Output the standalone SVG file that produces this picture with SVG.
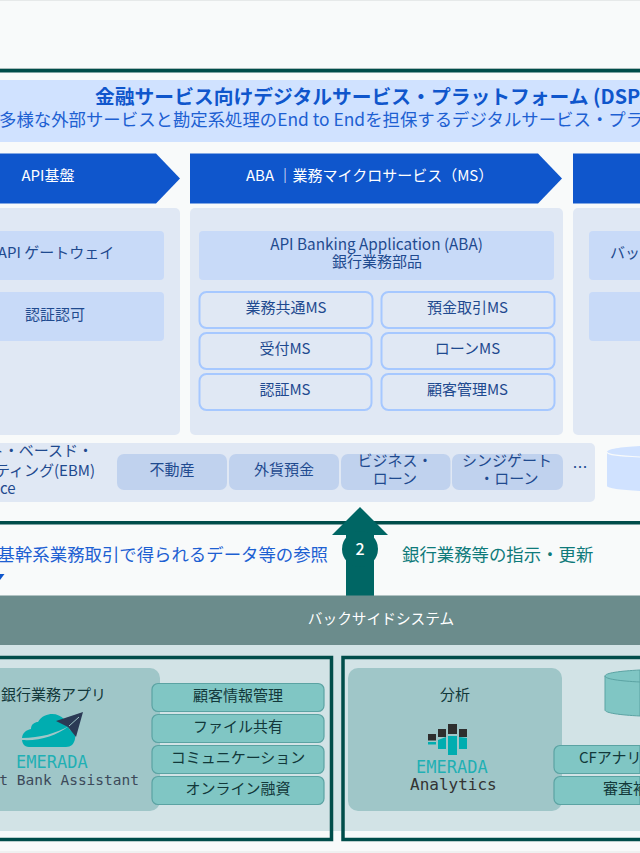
<svg xmlns="http://www.w3.org/2000/svg" width="640" height="853" viewBox="0 0 640 853">
<style>
text{font-family:"Noto Sans CJK JP","Noto Sans",sans-serif}
.m{text-anchor:middle}
.e{text-anchor:end}
.b{font-size:15px;fill:#1f4a8f}
.w{font-size:15px;fill:#fff}
.panel{fill:#e0e8f4}
.inner{fill:#c8daf8}
.ms{fill:#e0e8f4;stroke:#a6c8ff;stroke-width:2}
.chip{fill:#c0d2ee}
.chev{fill:#0f56cc}
.frame{fill:none;stroke:#004d4a;stroke-width:3.5}
.gp{fill:#9fc6c8}
.tile{fill:#80c6c4;stroke:#5ba3a3;stroke-width:1.2}
.t{font-size:15px;fill:#12383a}
.mono{font-family:"DejaVu Sans Mono","Liberation Mono",monospace}
</style>
<rect width="640" height="853" fill="#f8fafa"/>
<rect y="0" width="640" height="1" fill="#e6e9e9"/>
<rect y="68" width="640" height="1" fill="#a9bcbb"/>
<rect y="69" width="640" height="3.5" fill="#004d4a"/>
<g id="title">
<rect y="80" width="640" height="62" fill="#d0e2ff"/>
<text x="95" y="104" font-size="19.8" font-weight="700" fill="#0f56cc">金融サービス向けデジタルサービス・プラットフォーム (DSP)</text>
<text x="-1" y="126" font-size="17.4" fill="#1d60d2">多様な外部サービスと勘定系処理のEnd to Endを担保するデジタルサービス・プラ</text>
</g>
<g id="api-col">
<polygon class="chev" points="0,153.5 156,153.5 180,178.5 156,203.5 0,203.5"/>
<text class="w m" x="48" y="181">API基盤</text>
<path class="panel" d="M0 208H175a5 5 0 0 1 5 5V430a5 5 0 0 1-5 5H0Z"/>
<path class="inner" d="M0 231H160a4 4 0 0 1 4 4V276a4 4 0 0 1-4 4H0Z"/>
<path class="inner" d="M0 292H160a4 4 0 0 1 4 4V337a4 4 0 0 1-4 4H0Z"/>
<text class="b m" x="56" y="258">API ゲートウェイ</text>
<text class="b m" x="55" y="320">認証認可</text>
</g>
<g id="aba-col">
<polygon class="chev" points="190,153.5 538,153.5 562,178.5 538,203.5 190,203.5"/>
<text class="w" x="246" y="181">ABA ｜業務マイクロサービス（MS）</text>
<rect class="panel" x="190" y="208" width="373" height="227" rx="5"/>
<rect class="inner" x="199" y="231" width="355" height="49" rx="4"/>
<text class="b m"><tspan x="376.500" y="250" font-size="15.300">API Banking Application (ABA)</tspan><tspan x="377" y="267">銀行業務部品</tspan></text>
</g>
<g id="ms-common"><rect class="ms" x="199.500" y="292" width="173" height="36" rx="7"/><text class="b m" x="286" y="313">業務共通MS</text></g>
<g id="ms-deposit"><rect class="ms" x="381.500" y="292" width="173" height="36" rx="7"/><text class="b m" x="467.500" y="313">預金取引MS</text></g>
<g id="ms-accept"><rect class="ms" x="199.500" y="333" width="172" height="36" rx="7"/><text class="b m" x="285" y="354">受付MS</text></g>
<g id="ms-loan"><rect class="ms" x="381.500" y="333" width="173" height="36" rx="7"/><text class="b m" x="467.500" y="354">ローンMS</text></g>
<g id="ms-auth"><rect class="ms" x="199.500" y="374" width="172" height="36" rx="7"/><text class="b m" x="285" y="395">認証MS</text></g>
<g id="ms-customer"><rect class="ms" x="381.500" y="374" width="173" height="36" rx="7"/><text class="b m" x="467.500" y="395">顧客管理MS</text></g>
<g id="back-col">
<rect class="chev" x="573" y="153.500" width="67" height="50"/>
<path class="panel" d="M640 208H578a5 5 0 0 0-5 5V430a5 5 0 0 0 5 5H640Z"/>
<path class="inner" d="M640 231H593a4 4 0 0 0-4 4V276a4 4 0 0 0 4 4H640Z"/>
<path class="inner" d="M640 292H593a4 4 0 0 0-4 4V337a4 4 0 0 0 4 4H640Z"/>
<text class="b" x="610" y="258">バッ</text>
</g>
<g id="ebm">
<path class="panel" d="M0 443H590a5 5 0 0 1 5 5V497a5 5 0 0 1-5 5H0Z"/>
<text class="b"><tspan class="e" text-anchor="end" x="93" y="456">ト・ベースド・</tspan><tspan text-anchor="end" x="95" y="476">ティング(EBM)</tspan><tspan text-anchor="start" x="0" y="494">ce</tspan></text>
<rect class="chip" x="117" y="454" width="110" height="36" rx="7"/><text class="b m" x="172" y="475">不動産</text>
<rect class="chip" x="229" y="454" width="110" height="36" rx="7"/><text class="b m" x="284" y="475">外貨預金</text>
<rect class="chip" x="341" y="454" width="109.500" height="36" rx="7"/><text class="b m"><tspan x="395" y="466">ビジネス・</tspan><tspan x="395" y="484">ローン</tspan></text>
<rect class="chip" x="452" y="454" width="111" height="36" rx="7"/><text class="b m"><tspan x="507" y="466">シンジゲート</tspan><tspan x="509" y="484">・ローン</tspan></text>
<text class="b m" x="580" y="473">…</text>
</g>
<g id="db-top">
<path d="M640 446C620 447 607 449 607 452V486C607 488 620 490 640 491Z" fill="#d0e2ff"/>
<path d="M607 452C607 455 620 456 640 457" fill="none" stroke="#f8fafa" stroke-width="1.200"/>
</g>
<rect y="521" width="640" height="3.500" fill="#004d4a"/>
<g id="connectors">
<polygon points="346,596 346,535 332,535 360,507 388,535 374,535 374,596" fill="#006664"/>
<circle cx="360" cy="549" r="18" fill="#006664"/>
<polygon points="0,574 4.500,574 0,580" fill="#0f56cc"/>
</g>
<text x="360" y="555" class="m" font-size="16" font-weight="500" fill="#fff">2</text>
<text x="328" y="561" class="e" font-size="17.400" fill="#1d60d2">基幹系業務取引で得られるデータ等の参照</text>
<text x="402" y="561" font-size="17.400" fill="#0f7a7a">銀行業務等の指示・更新</text>
<g id="backside">
<rect y="595.500" width="640" height="50" fill="#6b8c8c"/>
<text class="m" x="381" y="624" font-size="14.700" fill="#fff">バックサイドシステム</text>
</g>
<rect y="645" width="640" height="186" fill="#d2e3e6"/>
<rect y="851" width="640" height="2" fill="#eff1f1"/>
<g id="apps">
<path class="gp" d="M0 668H150a10 10 0 0 1 10 10V801a10 10 0 0 1-10 10H0Z"/>
<text class="t" x="1" y="700">銀行業務アプリ</text>
<path d="M29 747C24 747 22 743 22 739C22 733 26 730 31 729C31 724 35 722 38 722C41 716 48 714 52 714C57 714 61 716 64 719L70 730C74 731 76 735 75 739C74 744 71 747 66 747Z" fill="#00adb0"/>
<path d="M22 740C40 741 56 736 69 726C57 733 40 738 22 738Z" fill="#9fc6c8"/>
<polygon points="56,721 83,712 76,737 68,727" fill="#2b3a55"/>
<path d="M69 726L79 717" stroke="#9fc6c8" stroke-width="1"/>
<text class="mono" x="16" y="768" font-size="17" font-weight="300" fill="#1fb0b4">EMERADA</text>
<text class="mono e" x="139" y="785" font-size="14.500" fill="#3c4a5a">t Bank Assistant</text>
</g>
<g id="tile-1"><rect class="tile" x="152" y="683.500" width="172" height="28" rx="6"/><text class="t m" x="238" y="701">顧客情報管理</text></g>
<g id="tile-2"><rect class="tile" x="152" y="714.500" width="172" height="28" rx="6"/><text class="t m" x="238" y="732">ファイル共有</text></g>
<g id="tile-3"><rect class="tile" x="152" y="745.500" width="172" height="28" rx="6"/><text class="t m" x="238" y="763">コミュニケーション</text></g>
<g id="tile-4"><rect class="tile" x="152" y="776.500" width="172" height="28" rx="6"/><text class="t m" x="238" y="794">オンライン融資</text></g>
<g id="analytics">
<rect class="gp" x="348" y="668" width="214" height="143" rx="10"/>
<text class="t m" x="455" y="700">分析</text>
<g fill="#2e2e2e"><rect x="428" y="734" width="8" height="6.500"/><rect x="438" y="729" width="8" height="8"/><rect x="448" y="724" width="9" height="10"/><rect x="459" y="729" width="8" height="8"/></g>
<g fill="#00adb0"><rect x="428" y="742" width="8" height="2.500"/><path d="M438 740L446 737V749H438Z"/><path d="M448 736L457 736V755H448Z"/><path d="M459 737L467 738V749H459Z"/></g>
<text class="mono" x="416" y="773" font-size="17" fill="#1fb0b4">EMERADA</text>
<text class="mono" x="410" y="790" font-size="16" fill="#333">Analytics</text>
</g>
<g id="db-bottom">
<path d="M640 670C620 671 605 673 605 676V710C605 713 620 715 640 716Z" fill="#80c6c4" stroke="#5ba3a3" stroke-width="1"/>
<path d="M605 676C605 679 620 681 640 682" fill="none" stroke="#5ba3a3" stroke-width="1"/>
</g>
<g id="tile-5"><path class="tile" d="M640 745.500H560a6 6 0 0 0-6 6V767.500a6 6 0 0 0 6 6H640Z"/><text class="t" x="579" y="763">CFアナリ</text></g>
<g id="tile-6"><path class="tile" d="M640 776.500H560a6 6 0 0 0-6 6V798.500a6 6 0 0 0 6 6H640Z"/><text class="t" x="603" y="794">審査補</text></g>
<rect y="831" width="640" height="9" fill="#f8fafa"/>
<path class="frame" d="M-5 657.500H331.500V839.500H-5Z"/>
<path class="frame" d="M645 657.500H343V839.500H645Z"/>
</svg>
